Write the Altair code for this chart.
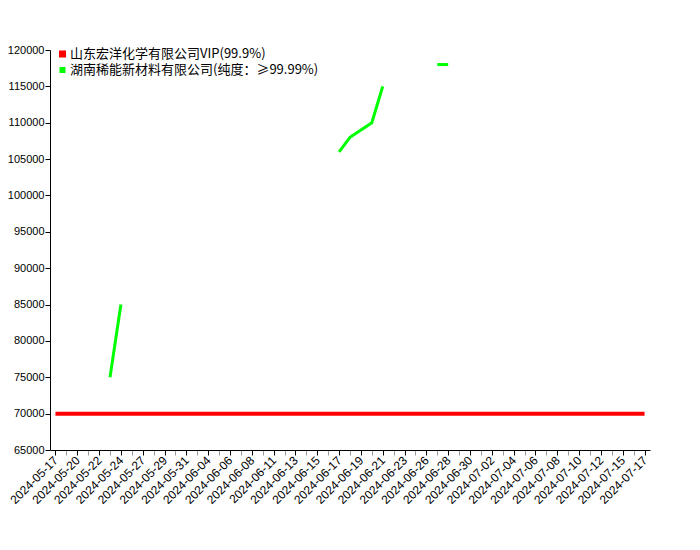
import altair as alt
import pandas as pd

dates = [
    "2024-05-17", "2024-05-18", "2024-05-20", "2024-05-21", "2024-05-22", "2024-05-23",
    "2024-05-24", "2024-05-25", "2024-05-27", "2024-05-28", "2024-05-29", "2024-05-30",
    "2024-05-31", "2024-06-03", "2024-06-04", "2024-06-05", "2024-06-06", "2024-06-07",
    "2024-06-08", "2024-06-09", "2024-06-11", "2024-06-12", "2024-06-13", "2024-06-14",
    "2024-06-15", "2024-06-16", "2024-06-17", "2024-06-18", "2024-06-19", "2024-06-20",
    "2024-06-21", "2024-06-22", "2024-06-23", "2024-06-25", "2024-06-26", "2024-06-27",
    "2024-06-28", "2024-06-29", "2024-06-30", "2024-07-01", "2024-07-02", "2024-07-03",
    "2024-07-04", "2024-07-05", "2024-07-06", "2024-07-07", "2024-07-08", "2024-07-09",
    "2024-07-10", "2024-07-11", "2024-07-12", "2024-07-13", "2024-07-15", "2024-07-16",
    "2024-07-17",
]

labelled_dates = [
    "2024-05-17", "2024-05-20", "2024-05-22", "2024-05-24", "2024-05-27", "2024-05-29",
    "2024-05-31", "2024-06-04", "2024-06-06", "2024-06-08", "2024-06-11", "2024-06-13",
    "2024-06-15", "2024-06-17", "2024-06-19", "2024-06-21", "2024-06-23", "2024-06-26",
    "2024-06-28", "2024-06-30", "2024-07-02", "2024-07-04", "2024-07-06", "2024-07-08",
    "2024-07-10", "2024-07-12", "2024-07-15", "2024-07-17",
]

series_red = "山东宏洋化学有限公司VIP(99.9%)"
series_green = "湖南稀能新材料有限公司(纯度：≥99.99%)"

red_values = [
    70000, 70000, 70000, 70000, 70000, 70000, 70000, 70000, 70000, 70000, 70000,
    70000, 70000, 70000, 70000, 70000, 70000, 70000, 70000, 70000, 70000, 70000,
    70000, 70000, 70000, 70000, 70000, 70000, 70000, 70000, 70000, 70000, 70000,
    70000, 70000, 70000, 70000, 70000, 70000, 70000, 70000, 70000, 70000, 70000,
    70000, 70000, 70000, 70000, 70000, 70000, 70000, 70000, 70000, 70000, 70000,
]

green_dates = ["2024-05-23", "2024-05-24",
               "2024-06-17", "2024-06-18", "2024-06-20", "2024-06-21",
               "2024-06-27", "2024-06-28"]
green_values = [75000, 85000, 106000, 108000, 110000, 115000, 118000, 118000]
green_segments = ["g1", "g1", "g2", "g2", "g2", "g2", "g3", "g3"]

rows = []
for d, v in zip(dates, red_values):
    rows.append({"date": d, "value": v, "series": series_red, "seg": "r"})
for d, v, s in zip(green_dates, green_values, green_segments):
    rows.append({"date": d, "value": v, "series": series_green, "seg": s})
df = pd.DataFrame(rows)

y_ticks = list(range(65000, 120001, 5000))
lab_list = "[" + ",".join("'" + d + "'" for d in labelled_dates) + "]"
is_lab = "indexof(" + lab_list + ", datum.value) >= 0"

chart = alt.Chart(df).mark_line().encode(
    x=alt.X(
        "date:O",
        sort=dates,
        scale=alt.Scale(type="point", domain=dates, padding=0.5),
        axis=alt.Axis(
            title=None,
            labelAngle=-45,
            labelAlign="right",
            labelBaseline="middle",
            labelExpr=is_lab + " ? datum.value : ''",
            labelFont="Liberation Sans",
            labelFontSize=12,
            labelColor="black",
            labelPadding=3,
            labelOverlap=False,
            domainColor="black",
            tickSize=5,
            tickColor={"condition": {"test": is_lab, "value": "black"}, "value": "#999999"},
            grid=False,
        ),
    ),
    y=alt.Y(
        "value:Q",
        scale=alt.Scale(domain=[65000, 120000], nice=False, zero=False),
        axis=alt.Axis(
            title=None,
            values=y_ticks,
            format="d",
            labelFont="Liberation Sans",
            labelFontSize=11,
            labelColor="black",
            labelPadding=1,
            domainColor="black",
            tickColor="black",
            tickSize=5,
            grid=False,
        ),
    ),
    color=alt.Color(
        "series:N",
        scale=alt.Scale(domain=[series_red, series_green], range=["#ff0000", "#00ff00"]),
        legend=alt.Legend(
            title=None,
            orient="none",
            legendX=6,
            legendY=-4,
            symbolType="square",
            symbolSize=9,
            symbolStrokeWidth=3,
            labelFont="Noto Sans CJK SC",
            labelFontSize=13,
            labelColor="black",
            labelLimit=400,
            labelOffset=1,
            rowPadding=0,
            clipHeight=16,
            padding=0,
        ),
    ),
    strokeWidth=alt.StrokeWidth(
        "series:N",
        scale=alt.Scale(domain=[series_red, series_green], range=[4, 3]),
        legend=None,
    ),
    detail="seg:N",
).properties(
    width=600,
    height=400,
    autosize=alt.AutoSizeParams(type="none"),
    padding={"left": 42, "top": 42, "right": 42, "bottom": 92},
).configure_view(stroke="transparent")

chart.save("out.html", embed_options={"renderer": "svg", "actions": False})
